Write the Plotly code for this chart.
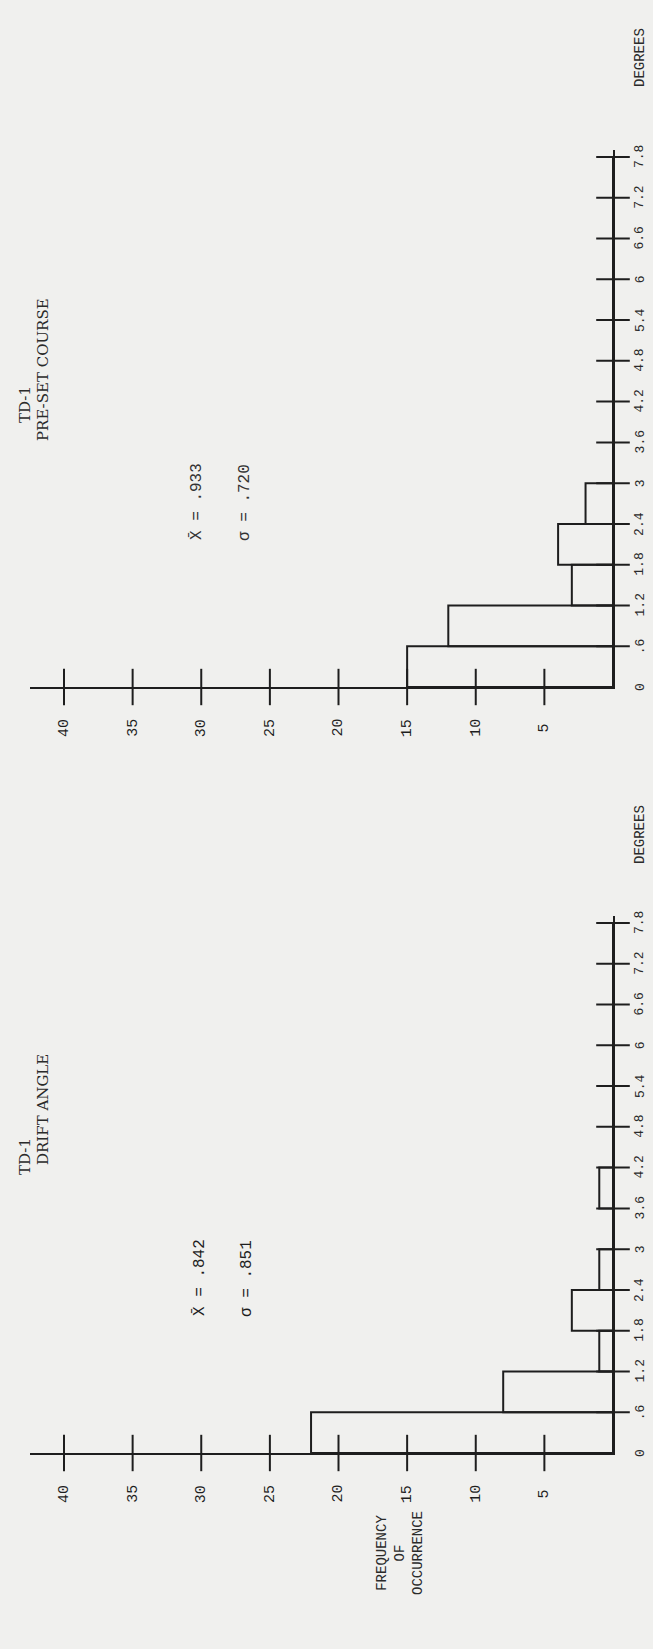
import plotly.graph_objects as go

# ---------------- data ----------------
degree_edges = [0.0, 0.6, 1.2, 1.8, 2.4, 3.0, 3.6, 4.2, 4.8, 5.4, 6.0, 6.6, 7.2, 7.8]
degree_labels = ["0", ".6", "1.2", "1.8", "2.4", "3", "3.6", "4.2", "4.8", "5.4", "6", "6.6", "7.2", "7.8"]
drift_counts = [22, 8, 1, 3, 1, 0, 1, 0, 0, 0, 0, 0, 0]
preset_counts = [15, 12, 3, 4, 2, 0, 0, 0, 0, 0, 0, 0, 0]
freq_ticks = [5, 10, 15, 20, 25, 30, 35, 40]
freq_labels = ["5", "10", "15", "20", "25", "30", "35", "40"]
drift_stats = ["X\u0304 = .842", "\u03c3 = .851"]
preset_stats = ["X\u0304 = .933", "\u03c3 = .720"]

W, H = 653, 1649
INK = "#1e1e1e"
BG = "#f0f0ee"

def px(x):
    return x / W

def py(y):
    return 1 - y / H

bin_mids = [(degree_edges[i] + degree_edges[i + 1]) / 2 for i in range(len(degree_edges) - 1)]
bin_widths = [degree_edges[i + 1] - degree_edges[i] for i in range(len(degree_edges) - 1)]

fig = go.Figure()

panels = [("x", "y", drift_counts), ("x2", "y2", preset_counts)]
for xa, ya, counts in panels:
    fig.add_trace(go.Bar(
        orientation="h", y=bin_mids, x=counts, width=bin_widths,
        marker=dict(color="rgba(0,0,0,0)", line=dict(color=INK, width=2)),
        xaxis=xa, yaxis=ya, showlegend=False, hoverinfo="skip"))
    fig.add_trace(go.Scatter(
        x=freq_ticks, y=[0] * len(freq_ticks), mode="markers",
        marker=dict(symbol="line-ns", size=26, line=dict(color=INK, width=2)),
        cliponaxis=False, xaxis=xa, yaxis=ya, showlegend=False, hoverinfo="skip"))
    fig.add_trace(go.Scatter(
        x=[0] * (len(degree_edges) - 1), y=degree_edges[1:], mode="markers",
        marker=dict(symbol="line-ew", size=24, line=dict(color=INK, width=2)),
        cliponaxis=False, xaxis=xa, yaxis=ya, showlegend=False, hoverinfo="skip"))

x_dom = [px(30), px(613)]
f_range = [583 / 13.725, 0]
deg_range = [0, 7.9]
PXDEG = 67.95
bot_zero, top_zero = 1453, 687

axis_common = dict(showgrid=False, zeroline=False, showticklabels=False, ticks="",
                   showline=True, linecolor=INK, linewidth=2, fixedrange=True)

fig.update_layout(
    xaxis=dict(domain=x_dom, range=f_range, anchor="y", **axis_common),
    yaxis=dict(domain=[py(bot_zero), py(bot_zero - 7.9 * PXDEG)], range=deg_range,
               anchor="x", side="right", **axis_common),
    xaxis2=dict(domain=x_dom, range=f_range, anchor="y2", **axis_common),
    yaxis2=dict(domain=[py(top_zero), py(top_zero - 7.9 * PXDEG)], range=deg_range,
                anchor="x2", side="right", **axis_common),
)

ann = []
MONO = "Liberation Mono"
SERIF = "DejaVu Serif"
for xa, ya in [("x", "y"), ("x2", "y2")]:
    for f, lab in zip(freq_ticks, freq_labels):
        ann.append(dict(x=f, y=0, xref=xa, yref=ya, text=lab, showarrow=False,
                        textangle=-90, xanchor="center", yanchor="middle", yshift=-41,
                        font=dict(family=MONO, size=15, color=INK)))
    for d, lab in zip(degree_edges, degree_labels):
        ann.append(dict(x=0, y=d, xref=xa, yref=ya, text=lab, showarrow=False,
                        textangle=-90, xanchor="center", yanchor="middle", xshift=27,
                        font=dict(family=MONO, size=13, color="#2a2a2a")))

def txt(x, y, s, family, size, color=INK):
    ann.append(dict(x=px(x), y=py(y), xref="paper", yref="paper", text=s, showarrow=False,
                    textangle=-90, xanchor="center", yanchor="middle",
                    font=dict(family=family, size=size, color=color)))

# titles
txt(25, 404, "TD-1", SERIF, 15, "#2a2a2a")
txt(43, 370, "PRE-SET COURSE", SERIF, 15, "#2a2a2a")
txt(25, 1156, "TD-1", SERIF, 15, "#2a2a2a")
txt(43, 1110, "DRIFT ANGLE", SERIF, 15, "#2a2a2a")
# statistics
txt(197, 502, preset_stats[0], MONO, 16, "#333333")
txt(245, 503, preset_stats[1], MONO, 16, "#333333")
txt(200, 1277, drift_stats[0], MONO, 16)
txt(247, 1279, drift_stats[1], MONO, 16)
# axis titles
txt(640, 58, "DEGREES", MONO, 14, "#2a2a2a")
txt(640, 835, "DEGREES", MONO, 14, "#2a2a2a")
txt(400, 1553, "FREQUENCY<br>OF<br>OCCURRENCE", MONO, 14, "#2a2a2a")

fig.update_layout(
    annotations=ann,
    width=W, height=H, autosize=False,
    margin=dict(l=0, r=0, t=0, b=0),
    paper_bgcolor=BG, plot_bgcolor=BG,
    showlegend=False, bargap=0,
)

fig.write_html(
    "out.html",
    config={"displayModeBar": False, "staticPlot": True},
    post_script="document.body.style.margin='0';document.body.style.overflow='hidden';"
                "document.documentElement.style.overflow='hidden';",
)
